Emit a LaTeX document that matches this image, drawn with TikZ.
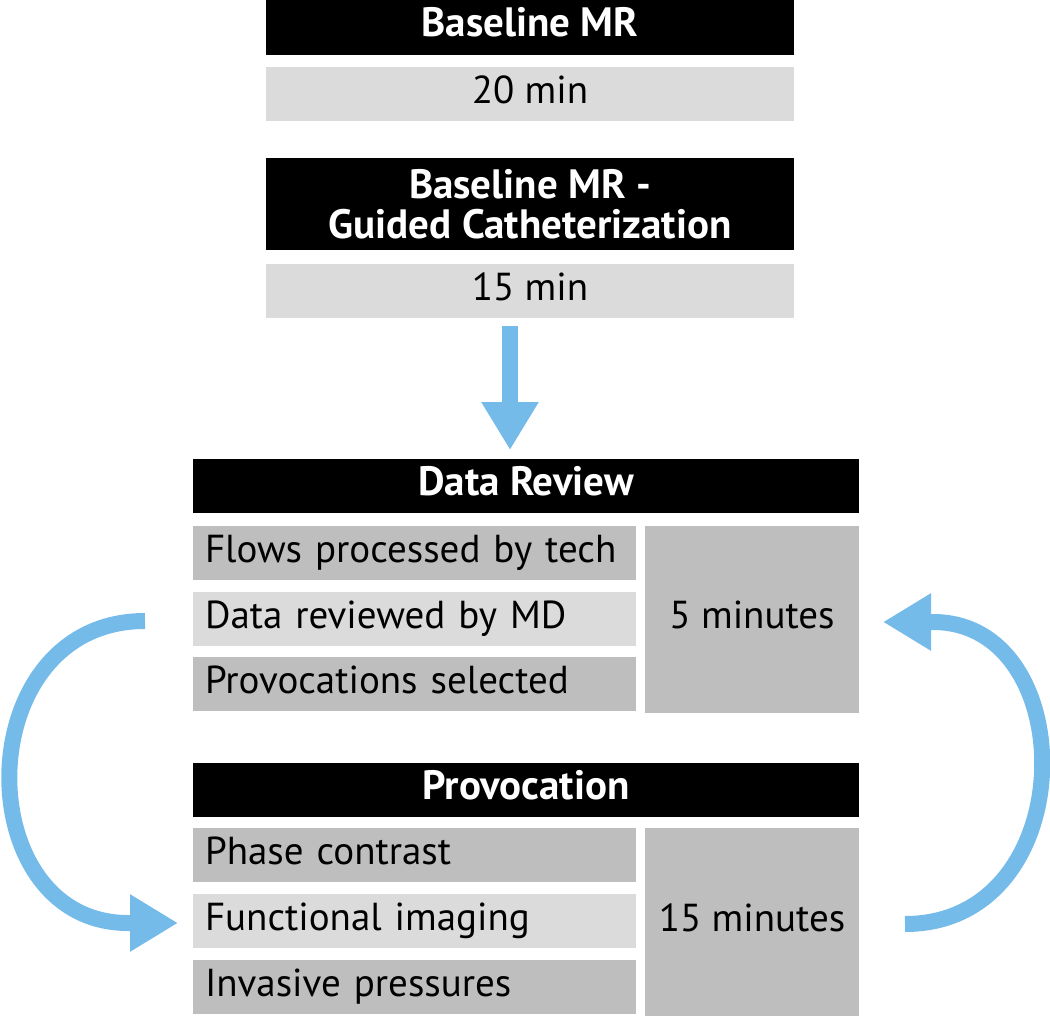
\documentclass[tikz,border=0pt]{standalone}
\usepackage{fontspec}
\setmainfont{PT Sans}
\usetikzlibrary{arrows.meta}
\definecolor{hdr}{HTML}{000000}
\definecolor{lightg}{HTML}{DBDBDB}
\definecolor{darkg}{HTML}{BEBEBE}
\definecolor{arrowblue}{HTML}{74BBEA}
\begin{document}
\begin{tikzpicture}[x=1pt,y=-1pt,
  every node/.style={inner sep=0pt, outer sep=0pt, font=\fontsize{39}{40}\selectfont},
  boxbase/.style={rectangle, anchor=north west},
  oneline/.style={text height=27pt, text depth=9pt},
  header/.style={boxbase, fill=hdr, text=white, font=\fontsize{41}{40}\selectfont\bfseries, align=center},
  timebox/.style={boxbase, oneline, fill=lightg, align=center},
  rowdark/.style={boxbase, oneline, fill=darkg, align=left, text width=419pt, minimum width=443pt, minimum height=54pt},
  rowlight/.style={rowdark, fill=lightg},
  sidebox/.style={boxbase, oneline, fill=darkg, align=center, minimum width=214pt},
  flow/.style={draw=arrowblue, line width=16pt, -{Triangle[length=48pt,width=54pt]}}
]
\useasboundingbox (0,0) rectangle (1050,1017);

% top blocks
\node[header, oneline, minimum width=528pt, minimum height=55pt] (bmr) at (266,0) {Baseline MR};
\node[timebox, minimum width=528pt, minimum height=54pt] (t20) at (266,67) {20 min};
\node[header, minimum width=528pt, minimum height=92pt] (gc) at (266,158) {Baseline MR -\\ Guided Catheterization};
\node[timebox, minimum width=528pt, minimum height=54pt] (t15) at (266,264) {15 min};

% data review
\node[header, oneline, minimum width=666pt, minimum height=54pt] (dr) at (193,459) {Data Review};
\node[rowdark] (r1) at (193,526) {Flows processed by tech};
\node[rowlight] (r2) at (193,592) {Data reviewed by MD};
\node[rowdark] (r3) at (193,657) {Provocations selected};
\node[sidebox, minimum height=187pt] (m5) at (645,526) {5 minutes};

% provocation
\node[header, oneline, minimum width=666pt, minimum height=54pt] (pv) at (193,763) {Provocation};
\node[rowdark] (p1) at (193,828) {Phase contrast};
\node[rowlight] (p2) at (193,894) {Functional imaging};
\node[rowdark] (p3) at (193,960) {Invasive pressures};
\node[sidebox, minimum height=188pt] (m15) at (645,828) {15 minutes};

% arrows
\coordinate (downstart) at (510,326);
\coordinate (downend) at (510,450);
\draw[flow] (downstart) -- (downend);

\coordinate (lstart) at (145,621);
\coordinate (lend) at (178,923);
\draw[flow] (lstart) .. controls (-33,621) and (-33,923) .. (128,923) -- (lend);

\coordinate (rstart) at (905,924);
\coordinate (rend) at (883,622);
\draw[flow] (rstart) .. controls (1083,924) and (1083,622) .. (933,622) -- (rend);
\end{tikzpicture}
\end{document}
